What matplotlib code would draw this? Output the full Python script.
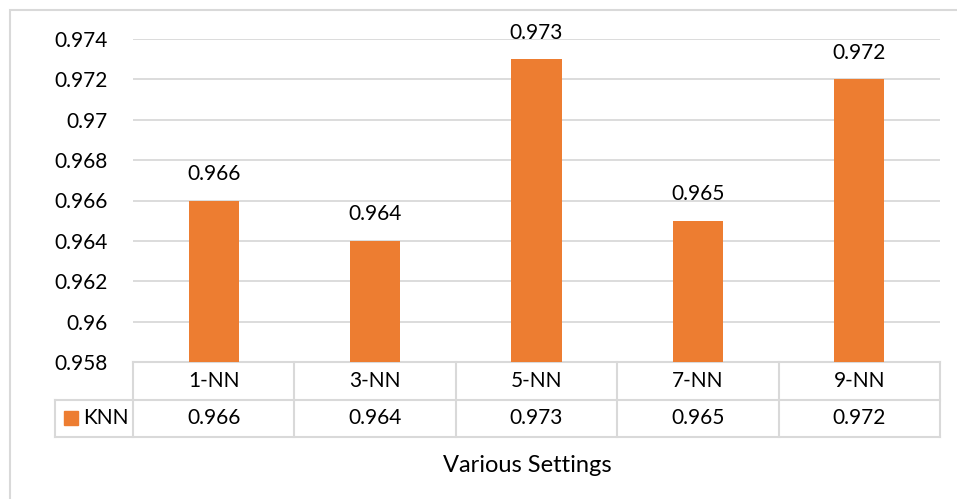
import matplotlib.pyplot as plt
from matplotlib.patches import Rectangle
from matplotlib.lines import Line2D

settings = ['1-NN', '3-NN', '5-NN', '7-NN', '9-NN']
knn = [0.966, 0.964, 0.973, 0.965, 0.972]
yticks = [0.958, 0.96, 0.962, 0.964, 0.966, 0.968, 0.97, 0.972, 0.974]
ytick_labels = ['0.958', '0.96', '0.962', '0.964', '0.966', '0.968', '0.97', '0.972', '0.974']

plt.rcParams['font.family'] = ['Lato', 'DejaVu Sans']
bar_color = '#ED7D31'
grid_color = '#D9D9D9'
W, H = 957, 499
fs = 15

fig = plt.figure(figsize=(9.57, 4.99), dpi=100)
# outer chart border
fig.add_artist(Rectangle((10 / W, -0.1), 1.2, 1 - 10 / H + 0.1, transform=fig.transFigure,
                         fill=False, edgecolor=grid_color, linewidth=1.5))

left, right, top, bottom = 133, 940, 39, 362
ax = fig.add_axes([left / W, 1 - bottom / H, (right - left) / W, (bottom - top) / H])

x = range(len(settings))
ax.bar(x, knn, width=0.31, color=bar_color, zorder=3)
for i, v in enumerate(knn):
    ax.annotate(f'{v:.3f}', (i, v), xytext=(0, 19), textcoords='offset points',
                ha='center', va='center', fontsize=fs)

ax.set_xlim(-0.5, len(settings) - 0.5)
ax.set_ylim(0.958, 0.974)
ax.set_yticks(yticks)
ax.set_yticklabels(ytick_labels, fontsize=fs)
ax.set_xticks([])
ax.tick_params(axis='y', length=0, pad=18)
ax.grid(axis='y', color=grid_color, linewidth=1.3, zorder=0)
for s in ax.spines.values():
    s.set_visible(False)

# data table under the plot
ph = bottom - top
row = 37.5 / ph
tr = ax.transAxes
lw = 1.5
def hline(x0, x1, y):
    ax.add_line(Line2D([x0, x1], [y, y], transform=tr, color=grid_color, lw=lw, clip_on=False))
def vline(xv, y0, y1):
    ax.add_line(Line2D([xv, xv], [y0, y1], transform=tr, color=grid_color, lw=lw, clip_on=False))

legx = (55 - left) / (right - left)
hline(0, 1, 0)
hline(legx, 1, -row)
hline(legx, 1, -2 * row)
vline(legx, -row, -2 * row)
n = len(settings)
for k in range(n + 1):
    vline(k / n, 0, -2 * row)
for i, s in enumerate(settings):
    ax.text((i + 0.5) / n, -0.5 * row, s, transform=tr, ha='center', va='center', fontsize=fs)
    ax.text((i + 0.5) / n, -1.5 * row, f'{knn[i]:.3f}', transform=tr, ha='center', va='center', fontsize=fs)

kx = (64 - left) / (right - left)
ax.add_patch(Rectangle((kx, -1.5 * row - 7 / ph), 14 / (right - left), 14 / ph, transform=tr,
                       color=bar_color, clip_on=False))
ax.text((83 - left) / (right - left), -1.5 * row, 'KNN', transform=tr, ha='left', va='center', fontsize=fs)

fig.text(527 / W, 1 - 465 / H, 'Various Settings', ha='center', va='center', fontsize=17)

fig.savefig('out.png', dpi=100)
